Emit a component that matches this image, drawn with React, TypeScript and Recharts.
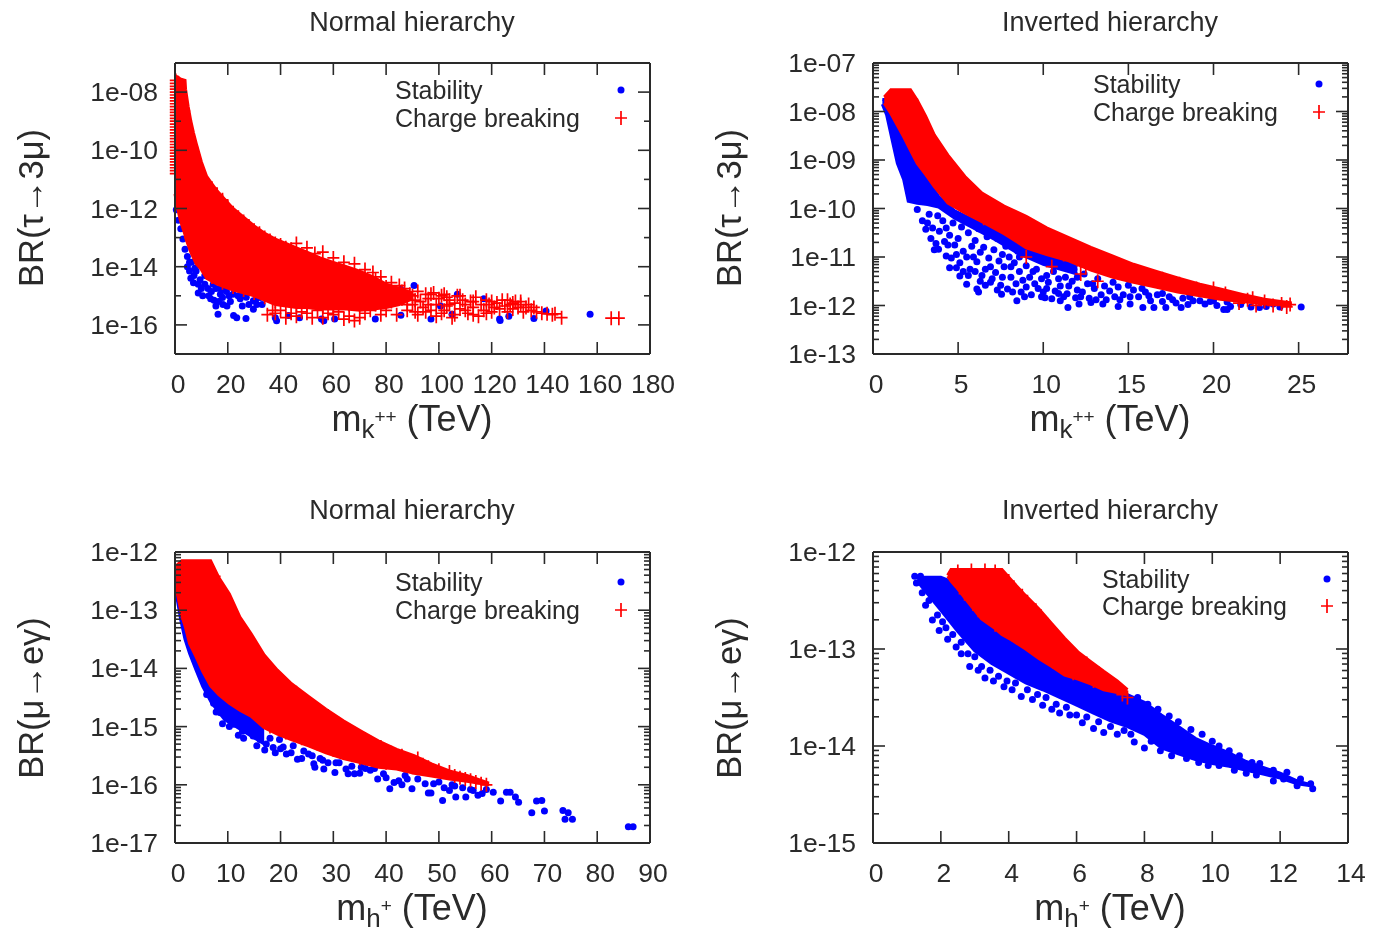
import React from "react"
import { ComposedChart, Area, Scatter, XAxis, YAxis } from "recharts"

type Pt = [number, number]

const FONT = "'Liberation Sans', Arial, sans-serif"
const INK = "#2a2a2a"
const BLUE = "#0000ff"
const RED = "#ff0000"

const LEGEND_NAMES = ["Stability", "Charge breaking"]
const TITLES = ["Normal hierarchy", "Inverted hierarchy"]

// all BR values below as log10(BR)

// --- tau -> 3mu, normal
const tauNormalXTicks = [0, 20, 40, 60, 80, 100, 120, 140, 160, 180]
const tauNormalYTicks = [1e-17, 1e-16, 1e-15, 1e-14, 1e-13, 1e-12, 1e-11, 1e-10, 1e-9, 1e-8, 1e-7]
const tauNormalYLabels: [number, string][] = [[1e-16, "1e-16"], [1e-14, "1e-14"], [1e-12, "1e-12"], [1e-10, "1e-10"], [1e-8, "1e-08"]]
const tauNormalBandX = [0, 1, 2, 3.8, 4, 5, 6, 7, 8, 10, 12, 14, 16, 19, 22, 26, 30, 34, 38, 42, 46, 50, 55, 60, 65, 70, 75, 80, 85, 90]
const tauNormalBandHi = [-7.45, -7.48, -7.55, -7.6, -7.9, -8.5, -9, -9.4, -9.75, -10.4, -10.9, -11.15, -11.4, -11.7, -12, -12.3, -12.6, -12.85, -13.05, -13.2, -13.35, -13.5, -13.7, -13.85, -14, -14.15, -14.35, -14.6, -14.75, -14.9]
const tauNormalBandLo = [-11.5, -12, -12.4, -12.9, -13, -13.25, -13.5, -13.7, -13.9, -14.1, -14.4, -14.5, -14.6, -14.7, -14.8, -14.9, -15, -15.15, -15.3, -15.35, -15.4, -15.4, -15.45, -15.45, -15.45, -15.5, -15.45, -15.4, -15.3, -15.1]
const tauNormalBlue: Pt[] = [
  [0.5, -12.04], [1.3, -12.4], [2.2, -12.7], [3, -13.05], [3.8, -13.4], [4.7, -13.65], [5.5, -13.85], [5.5, -14.15], [4.7, -14], [6.3, -13.85],
  [7.2, -14.3], [8, -14.15], [8.8, -14.6], [8.8, -14.9], [11.3, -14.3], [11.3, -14.6], [12.2, -14.3], [13.5, -15.1], [13.8, -14.85], [15.5, -15.35],
  [16.3, -15.63], [15.5, -14.75], [17.2, -14.95], [18, -15.06], [18.9, -14.78], [19.7, -15.35], [20.5, -15], [22.2, -15.68], [23.4, -15.75], [23.9, -15],
  [24.7, -15.1], [25.5, -15.35], [26.9, -15.78], [29.7, -15.46], [29.7, -15.17], [30.5, -15.17], [32.2, -15.06], [38, -15.75], [38.5, -15.86], [43, -15.68],
  [47.2, -15.75], [55.5, -15.8], [56.4, -15.86], [60.5, -15.8], [75.9, -15.8], [85.6, -15.67], [97, -15.8], [107, -14.95], [117, -15.1], [123, -15.8],
  [123.2, -15.85], [126.5, -15.7], [136, -15.78], [140.6, -15.52], [157.3, -15.63], [90.6, -14.65], [85.6, -14.78], [105, -15.63], [100.6, -15.35],
  [6, -14.4], [7, -14.55], [7.5, -14.05], [9.5, -14.45], [10, -14.75], [10.5, -15], [12.5, -14.75], [12.8, -15], [14.5, -14.6], [14.8, -15.15],
  [16.5, -15.2], [17, -14.75], [18.2, -15.3], [19.5, -14.85], [21, -15.2], [22, -14.95], [25, -14.98], [27, -15.05], [28, -15.3], [31, -15.3], [33, -15.3],
]
const tauNormalRed: Pt[] = [
  [0.3, -7.6], [0.3, -7.7], [0.3, -7.8], [0.3, -7.9], [0.3, -8], [0.3, -8.1], [0.3, -8.2], [0.3, -8.3], [0.3, -8.4], [0.3, -8.5], [0.3, -8.6], [0.3, -8.7],
  [0.3, -8.8], [0.3, -8.9], [0.3, -9], [0.3, -9.1], [0.3, -9.2], [0.3, -9.3], [0.3, -9.4], [0.3, -9.5], [0.3, -9.6], [0.3, -9.7], [0.3, -9.8], [0.3, -9.9],
  [0.3, -10], [0.3, -10.1], [0.3, -10.2], [0.3, -10.3], [0.3, -10.4], [0.3, -10.5], [0.3, -10.6], [0.3, -10.7], [0.3, -10.8],
  [3.5, -8.65], [4.5, -9.15], [5.5, -9.55], [6.5, -9.9], [8.5, -10.55], [10.5, -11.05], [12, -11.2], [14, -11.3], [16, -11.55], [18, -11.7], [20, -11.95],
  [22, -12.15], [24, -12.3], [26, -12.45], [28, -12.6], [30, -12.75], [32, -12.85], [34, -13], [36, -13.1], [38, -13.2], [40, -13.25], [42, -13.35], [44, -13.4],
  [14, -14.35], [18, -14.55], [22, -14.7], [26, -14.8], [30, -14.9], [34, -15.05], [38, -15.2], [42, -15.25], [46, -15.3], [50, -15.3], [56, -15.35], [60, -15.35], [66, -15.3],
  [46, -13.2], [50, -13.35], [53, -13.55], [56, -13.5], [60, -13.7], [64, -13.85], [68, -13.9], [72, -14.1], [75, -14.2], [78, -14.35],
  [35, -15.65], [38, -15.6], [40, -15.5], [44, -15.6], [48, -15.55], [52, -15.75], [54, -15.5], [58, -15.6], [62, -15.55], [64, -15.8],
  [66, -15.7], [68, -15.85], [70, -15.75], [72, -15.6], [74, -15.5], [76, -15.3], [78, -15.65], [80, -15.5], [82, -15.2], [84, -15.65],
  [60, -15.65], [56, -15.75], [50, -15.6], [46, -15.7], [42, -15.75], [37, -15.5], [88, -15.5], [92, -15.65], [95, -15.55], [99, -15.7], [102, -15.5],
  [106, -15.65], [110, -15.5], [113, -15.65], [118, -15.6], [121, -15.4], [90, -15.3], [96, -15.3], [103, -15.05], [108, -15], [113, -15.2], [118, -15.15],
  [120, -15.2], [126, -15.15], [128, -15.25], [131, -15.2], [134, -15.3], [136, -15.4], [86, -14.85], [91, -15.15], [97, -14.95], [101, -15], [104, -15.3],
  [76, -14.45], [78, -14.6], [80, -14.7], [82, -14.55], [84, -14.9], [85, -14.65], [86, -15.1], [87, -14.75], [88, -15.3], [89, -14.95],
  [90, -15], [91, -15.55], [92, -14.85], [93, -15.2], [94, -15.4], [95, -14.95], [96, -15.1], [97, -15.5], [98, -14.9], [99, -15.3],
  [100, -15.1], [101, -15.6], [102, -14.95], [103, -15.35], [104, -15.15], [105, -15.75], [106, -15.25], [107, -15], [108, -15.45], [109, -15.15],
  [110, -15.3], [111, -15.6], [112, -15.2], [113, -15.4], [114, -15.05], [115, -15.7], [116, -15.3], [117, -15.5], [119, -15.3], [120, -15.55],
  [122, -15.25], [123, -15.45], [124, -15.15], [125, -15.35], [126, -15.55], [127, -15.3], [128, -15.45], [129, -15.2], [130, -15.4], [131, -15.3],
  [132, -15.55], [133, -15.4], [135, -15.5], [137, -15.55], [139, -15.6], [141, -15.62], [143, -15.65], [144, -15.62], [146.5, -15.75], [165.3, -15.77], [168.2, -15.77],
]

// --- tau -> 3mu, inverted
const tauInvertedXTicks = [0, 5, 10, 15, 20, 25]
const tauInvertedYMajor = [1e-13, 1e-12, 1e-11, 1e-10, 1e-9, 1e-8, 1e-7]
const tauInvertedYLabels = ["1e-13", "1e-12", "1e-11", "1e-10", "1e-09", "1e-08", "1e-07"]
const tauInvertedBandX = [0.66, 1.05, 1.8, 2.2, 2.6, 3.1, 3.6, 4.4, 5.4, 6.4, 7.7, 9, 10.2, 11.5, 12.8, 14.1, 15.3, 16.6, 17.9, 19.2, 20.4, 21.7, 23, 24.6]
const tauInvertedBandHi = [-7.7, -7.55, -7.55, -7.55, -7.77, -8.1, -8.48, -8.9, -9.34, -9.68, -9.95, -10.16, -10.4, -10.6, -10.8, -10.98, -11.15, -11.29, -11.43, -11.56, -11.66, -11.77, -11.87, -11.95]
const tauInvertedBandLo = [-7.83, -8.04, -8.52, -8.8, -9.07, -9.3, -9.55, -9.89, -10.09, -10.27, -10.52, -10.81, -10.95, -11.08, -11.27, -11.42, -11.52, -11.62, -11.72, -11.8, -11.87, -11.92, -11.97, -11.99]
const tauInvertedBlueBandX = [0.55, 0.8, 1.17, 1.43, 1.8, 2.07, 2.6, 3.2, 3.85, 4.8, 6, 7.2, 8.5, 10, 12]
const tauInvertedBlueBandHi = [-7.75, -7.75, -7.85, -8.1, -8.5, -8.7, -9.05, -9.4, -9.75, -10.05, -10.25, -10.45, -10.7, -10.9, -11.2]
const tauInvertedBlueBandLo = [-7.85, -8.07, -8.66, -9.07, -9.4, -9.85, -9.89, -9.92, -9.97, -10.2, -10.42, -10.65, -10.92, -11.15, -11.35]
const tauInvertedBlue: Pt[] = [
  [2.6, -10.02], [3.1, -10.43], [3.85, -10.84], [4.5, -11.22], [5.1, -11.39], [5.5, -11.56], [6.1, -11.66], [6.2, -11.72], [7.55, -11.77], [8.45, -11.9],
  [10.1, -11.84], [11, -11.9], [11.45, -12.04], [12.1, -11.97], [12.8, -11.94], [13.5, -11.97], [14.4, -12.02], [15.1, -11.97], [15.85, -12.04], [16.5, -12.04],
  [17.2, -12.04], [18.1, -12.04], [19.5, -11.97], [20.6, -12.08], [20.8, -12.08], [22.7, -12.04], [23.5, -11.97], [25.15, -12.03],
  [3.1, -9.7], [3.3, -10.12], [2.9, -10.25], [3.5, -10.4], [3.4, -10.62], [3.7, -10.72], [4.1, -10.25], [3.9, -10.47], [4.2, -10.68], [4.3, -10.98],
  [4.7, -10.3], [4.5, -10.55], [4.8, -10.75], [4.6, -11.02], [5.2, -10.38], [5, -10.62], [5.3, -10.88], [5.1, -11.12], [5.6, -10.5], [5.8, -10.78],
  [5.5, -11], [5.7, -11.25], [6.2, -10.42], [6, -10.66], [6.3, -10.9], [6.1, -11.1], [6.4, -11.38], [6.7, -10.58], [6.5, -10.8], [6.8, -11.02],
  [6.6, -11.25], [6.9, -11.52], [7.3, -10.62], [7.1, -10.85], [7.4, -11.08], [7.2, -11.32], [7.5, -11.58], [7.8, -10.78], [8, -11], [7.7, -11.2],
  [8.1, -11.42], [7.9, -11.66], [8.5, -10.88], [8.3, -11.12], [8.6, -11.3], [8.4, -11.55], [8.7, -11.72], [9.1, -10.95], [9, -11.18], [9.2, -11.42],
  [9, -11.62], [9.3, -11.78], [9.8, -11.02], [9.6, -11.25], [9.9, -11.45], [9.7, -11.65], [10, -11.72], [10.4, -11.1], [10.6, -11.3], [10.3, -11.52],
  [10.7, -11.7], [10.5, -11.86], [11.1, -11.2], [11.3, -11.42], [11, -11.6], [11.4, -11.76], [11.8, -11.25], [11.7, -11.5], [12, -11.68], [11.9, -11.84],
  [12.4, -11.35], [12.6, -11.55], [12.3, -11.72], [12.7, -11.85], [13.2, -11.45], [13, -11.65], [13.4, -11.78], [13.7, -11.88], [14.1, -11.52], [13.9, -11.7],
  [14.4, -11.62], [14.7, -11.78], [14.5, -11.88], [15.3, -11.68], [15.6, -11.82], [16, -11.72], [16.3, -11.9], [16.7, -11.78], [17, -11.92], [17.4, -11.82],
  [17.8, -11.95], [18.2, -11.85], [18.5, -11.98], [18.8, -11.9], [19.8, -11.92], [20.2, -12], [21, -12.02], [21.6, -11.98], [22.2, -12.03], [23.1, -12.02], [23.9, -12.03],
  [3.6, -10.85], [3.2, -10.3], [3.8, -10.15], [4.3, -10.4], [4.4, -10.75], [4.9, -10.95], [4.9, -11.22], [5.3, -11.3], [5.6, -11.38], [5.9, -11], [6, -11.3],
  [6.3, -11.5], [6.6, -11.58], [6.9, -11.2], [7, -11.45], [7.3, -11.68], [7.6, -10.95], [7.6, -11.42], [8.1, -11.2], [8.2, -11.72], [8.6, -11], [8.8, -11.48],
  [8.9, -11.82], [9.4, -11.3], [9.5, -11.55], [9.9, -11.82], [10.2, -11.38], [10.2, -11.65], [10.9, -11.45], [10.9, -11.75], [11.2, -11.82], [11.5, -11.6],
  [12, -11.42], [12.2, -11.82], [12.9, -11.55], [13.1, -11.88], [13.6, -11.6], [14.2, -11.82], [15, -11.58], [15.1, -11.82], [15.8, -11.65], [16.2, -11.8],
  [17, -11.75], [17.6, -11.88], [18.6, -11.82], [19.2, -11.9], [20, -11.9], [20.8, -11.93],
]
const tauInvertedRed: Pt[] = [
  [1.3, -7.7], [1.8, -7.7], [2.3, -7.75], [2.6, -8], [3, -8.4], [3.4, -8.75], [4, -9.2], [4.6, -9.5], [5.2, -9.75], [5.8, -10], [6.5, -10.2], [7.2, -10.3],
  [8, -10.4], [8.8, -10.55], [9.6, -10.7], [10.4, -10.8], [11.2, -10.95], [12, -11.05], [13, -11.15], [14, -11.25], [9, -11], [10.5, -11.2], [12.2, -11.35], [12.5, -11.2],
  [13.2, -11.5], [15, -11.3], [16, -11.35], [17, -11.45], [18, -11.55], [19, -11.65],
  [20, -11.65], [20.7, -11.75], [21.5, -11.95], [22, -11.88], [22.5, -12], [22.3, -11.85], [23, -11.92], [23.5, -12], [24, -11.97], [24.3, -12.03], [24.5, -11.98],
]

// --- mu -> e gamma, normal
const muNormalXTicks = [0, 10, 20, 30, 40, 50, 60, 70, 80, 90]
const muNormalYMajor = [1e-17, 1e-16, 1e-15, 1e-14, 1e-13, 1e-12]
const muNormalYLabels = ["1e-17", "1e-16", "1e-15", "1e-14", "1e-13", "1e-12"]
const muNormalBandX = [0.2, 1.3, 2, 2.75, 4, 5.25, 6.75, 8.3, 10.3, 12.3, 14.4, 16.9, 19.4, 21.9, 25.3, 28.6, 31.9, 35.3, 38.6, 42, 45.3, 48.6, 52, 55.3, 59.5]
const muNormalBandHi = [-12.24, -12.15, -12.15, -12.15, -12.15, -12.15, -12.15, -12.44, -12.72, -13.12, -13.4, -13.77, -14.03, -14.25, -14.48, -14.7, -14.9, -15.08, -15.25, -15.39, -15.5, -15.64, -15.76, -15.84, -15.97]
const muNormalBandLo = [-12.6, -13.1, -13.3, -13.57, -13.8, -14.05, -14.3, -14.45, -14.6, -14.72, -14.82, -15.02, -15.13, -15.22, -15.33, -15.45, -15.55, -15.62, -15.7, -15.73, -15.8, -15.85, -15.9, -15.94, -16]
const muNormalBlueBandX = [0.25, 1.1, 1.9, 2.75, 4, 5.25, 6.9, 9.4, 11.9, 14.4, 16.9]
const muNormalBlueBandHi = [-12.3, -12.9, -13.2, -13.5, -13.75, -14, -14.25, -14.5, -14.65, -14.8, -15]
const muNormalBlueBandLo = [-12.72, -13.17, -13.5, -13.74, -14.03, -14.31, -14.59, -14.88, -15.02, -15.16, -15.3]
const muNormalBlue: Pt[] = [
  [7.3, -14.6], [8.6, -14.76], [9.8, -14.85], [11.1, -14.96], [12.8, -15.08], [13.6, -15.05], [14.8, -15.16], [16.1, -15.22], [17.3, -15.3], [18.6, -15.36],
  [19.8, -15.22], [21.1, -15.47], [22.4, -15.33], [23.2, -15.56], [24.4, -15.42], [25.3, -15.47], [26.3, -15.64], [26.5, -15.7], [28.2, -15.73], [29, -15.62],
  [30.3, -15.79], [31.1, -15.62], [32.4, -15.73], [32.8, -15.81], [34, -15.81], [35.3, -15.7], [36.1, -15.72], [38.4, -15.9], [39.5, -15.81], [40.7, -16.07],
  [41.5, -15.96], [42.4, -15.93], [43.6, -15.84], [44.9, -16.07], [44, -15.9], [47.4, -15.98], [48, -16.14], [48.5, -16.14], [50.7, -16.27], [52, -16.1],
  [53.2, -16.21], [55.1, -16.21], [57.4, -16.18], [58.2, -16.15], [60.3, -16.13], [61.7, -16.28], [62.8, -16.13], [63.5, -16.13], [64.5, -16.21], [65.1, -16.3],
  [67.6, -16.48], [68.5, -16.28], [69.5, -16.27], [70, -16.45], [73.5, -16.44], [74.5, -16.48], [73.9, -16.59], [75.3, -16.59], [85.9, -16.72], [86.8, -16.72],
  [50, -15.95], [52.5, -16], [54.5, -16.05], [56, -16.08], [59, -16.08], [18, -15.2], [20.5, -15.35], [22, -15.45], [27.5, -15.55], [33.5, -15.68], [37, -15.75],
  [6, -14.45], [7.8, -14.75], [9, -14.95], [10.3, -15], [12, -15.15], [13, -15.2], [15.5, -15.33], [17, -15.4], [19, -15.45], [20, -15.38], [24, -15.55],
  [26, -15.5], [28, -15.58], [30.5, -15.62], [35, -15.8], [37.8, -15.72], [40, -15.88], [43, -16], [46, -15.9], [49, -15.98], [51, -16.05], [53, -16.02], [56.5, -16.1],
]
const muNormalRed: Pt[] = [
  [2, -12.26], [3.5, -12.26], [5, -12.26], [7.5, -12.42], [9, -12.7], [10.5, -13], [12, -13.25], [13.5, -13.5], [15, -13.7], [17, -13.92], [19, -14.1], [21, -14.28],
  [23, -14.42], [25, -14.58], [27, -14.7], [29, -14.82], [31, -14.95], [33, -15.07], [35, -15.18], [37, -15.27], [39, -15.35], [41, -15.45], [43, -15.5], [45, -15.6],
  [18, -15], [21, -15.1], [24, -15.2], [27, -15.3], [30, -15.4], [35, -15.55], [40, -15.62], [45, -15.7],
  [46, -15.55], [48, -15.7], [50, -15.75], [52, -15.78], [53, -15.85], [54, -15.88], [55, -15.9], [56, -15.92], [57, -15.95], [58, -15.98], [59, -16],
]

// --- mu -> e gamma, inverted
const muInvertedXTicks = [0, 2, 4, 6, 8, 10, 12, 14]
const muInvertedYMajor = [1e-15, 1e-14, 1e-13, 1e-12]
const muInvertedYLabels = ["1e-15", "1e-14", "1e-13", "1e-12"]
const muInvertedBandX = [2.2, 2.3, 2.45, 2.83, 3.2, 3.6, 3.8, 4.1, 4.5, 4.9, 5.27, 5.65, 6.04, 6.42, 6.8, 7.2, 7.5]
const muInvertedBandHi = [-12.24, -12.18, -12.18, -12.18, -12.18, -12.18, -12.18, -12.3, -12.45, -12.59, -12.74, -12.89, -13.03, -13.13, -13.23, -13.33, -13.42]
const muInvertedBandLo = [-12.25, -12.3, -12.36, -12.53, -12.69, -12.79, -12.85, -12.91, -13, -13.1, -13.18, -13.27, -13.31, -13.36, -13.42, -13.45, -13.47]
const muInvertedBlueBandX = [1.3, 2, 2.5, 3, 3.5, 4, 4.5, 5, 5.5, 6, 6.5, 7, 7.5, 8, 8.5, 9, 9.5, 10, 10.5, 11, 11.5, 12, 12.5, 12.9]
const muInvertedBlueBandHi = [-12.26, -12.26, -12.33, -12.55, -12.72, -12.85, -13, -13.1, -13.22, -13.3, -13.36, -13.42, -13.47, -13.55, -13.68, -13.8, -13.92, -14, -14.07, -14.16, -14.22, -14.28, -14.36, -14.4]
const muInvertedBlueBandLo = [-12.3, -12.6, -12.82, -13.02, -13.15, -13.25, -13.35, -13.42, -13.5, -13.58, -13.66, -13.74, -13.8, -13.88, -14.02, -14.08, -14.14, -14.18, -14.21, -14.25, -14.29, -14.33, -14.39, -14.41]
const muInvertedBlue: Pt[] = [
  [1.23, -12.25], [1.28, -12.32], [1.4, -12.25], [1.45, -12.42], [1.55, -12.55], [1.65, -12.5], [1.75, -12.7], [1.95, -12.81], [2.05, -12.72], [2.2, -12.9],
  [2.45, -12.98], [2.6, -13.05], [2.85, -13.18], [3.1, -13.22], [3.3, -13.3], [3.55, -13.33], [3.86, -13.39], [4.1, -13.42], [4.37, -13.49], [4.7, -13.52],
  [5, -13.58], [5.27, -13.62], [5.5, -13.66], [5.8, -13.68], [6.17, -13.76], [6.5, -13.82], [6.8, -13.86], [7.2, -13.88], [7.7, -13.96], [8, -14.02],
  [8.47, -14.05], [8.8, -14.1], [9.24, -14.13], [9.6, -14.17], [9.88, -14.2], [10.2, -14.2], [10.65, -14.25], [11, -14.28], [11.3, -14.3], [11.8, -14.36],
  [12.1, -14.34], [12.5, -14.41], [12.96, -14.44], [12.9, -14.39], [12.6, -14.34], [12.2, -14.27], [11.8, -14.25], [11.4, -14.18], [11.17, -14.17], [10.8, -14.1],
  [10.5, -14.05], [10.2, -14], [10, -13.95], [9.7, -13.88], [9.37, -13.83], [9, -13.75], [8.73, -13.69], [8.4, -13.62], [8.1, -13.57], [7.8, -13.5],
  [1.9, -12.65], [2.15, -12.78], [2.35, -12.85], [2.6, -12.93], [2.8, -13.05], [3, -13.08], [3.2, -13.18], [3.45, -13.22], [3.7, -13.28], [3.95, -13.33],
  [4.2, -13.35], [4.55, -13.42], [4.85, -13.47], [5.1, -13.5], [5.4, -13.57], [5.7, -13.6], [6, -13.68], [6.3, -13.7], [6.65, -13.75], [7, -13.8], [7.4, -13.84], [7.6, -13.88], [8.2, -13.95], [8.6, -14],
]
const muInvertedRed: Pt[] = [
  [2.5, -12.2], [2.9, -12.19], [3.3, -12.19], [3.6, -12.2], [4, -12.3], [4.4, -12.45], [4.8, -12.6], [5.15, -12.75], [5.5, -12.9], [5.9, -13.05], [6.3, -13.15], [6.65, -13.25], [7, -13.35],
  [2.7, -12.43], [3.1, -12.6], [3.6, -12.75], [4.1, -12.85], [4.7, -12.98], [5.3, -13.13], [5.9, -13.25], [6.5, -13.33], [7.35, -13.47], [7.5, -13.5],
]

const toPoints = (pts: Pt[]) => pts.map(([x, e]) => ({ x, y: 10 ** e }))
const toBand = (xs: number[], hi: number[], lo: number[]) =>
  xs.map((x, i) => ({ x, band: [10 ** lo[i], 10 ** hi[i]] }))

const withMinors = (majors: number[]) => {
  const out: number[] = []
  majors.slice(0, -1).forEach((m) => [1, 2, 3, 4, 5, 6, 7, 8, 9].forEach((f) => out.push(m * f)))
  out.push(majors[majors.length - 1])
  return out
}
const labelMap = (values: number[], labels: string[]) => new Map(values.map((v, i) => [v, labels[i]] as [number, string]))

function Dot(p: any) {
  return <circle cx={p.cx} cy={p.cy} r={3.5} fill={BLUE} />
}
function Plus({ cx, cy }: any) {
  return <path d={`M${cx - 6} ${cy}H${cx + 6}M${cx} ${cy - 7}V${cy + 7}`} stroke={RED} strokeWidth={1.7} fill="none" />
}

const xTick = (side: "bottom" | "top", labelled: boolean) => (p: any) => (
  <g>
    <line x1={p.x} x2={p.x} y1={p.y} y2={side === "bottom" ? p.y - 12 : p.y + 12} stroke={INK} strokeWidth={1.6} />
    {labelled && (
      <text x={p.x + 3} y={p.y + 39} textAnchor="middle" fontFamily={FONT} fontSize={26.5} fill={INK}>
        {p.payload.value}
      </text>
    )}
  </g>
)

const yTick = (side: "left" | "right", labels: Map<number, string>, majors: number[] | null, labelled: boolean) => (p: any) => {
  const v = p.payload.value
  const text = labels.get(v)
  const long = majors ? majors.includes(v) : text !== undefined
  const len = long ? 12 : 6
  return (
    <g>
      <line x1={p.x} x2={side === "left" ? p.x + len : p.x - len} y1={p.y} y2={p.y} stroke={INK} strokeWidth={1.6} />
      {labelled && text && (
        <text x={p.x - 17} y={p.y} textAnchor="end" dominantBaseline="central" fontFamily={FONT} fontSize={26.5} fill={INK}>
          {text}
        </text>
      )}
    </g>
  )
}

function LegendBlock({ x, y1, y2, mx }: { x: number; y1: number; y2: number; mx: number }) {
  return (
    <g fontFamily={FONT} fontSize={25} fill={INK}>
      <text x={x} y={y1} dominantBaseline="central">{LEGEND_NAMES[0]}</text>
      <text x={x} y={y2} dominantBaseline="central">{LEGEND_NAMES[1]}</text>
      <Dot cx={mx} cy={y1} />
      <Plus cx={mx} cy={y2} />
    </g>
  )
}

function Panel(props: any) {
  const { left, top, width, title, xSub, xSup, yLabel, xTicks, xMax, yTicks, yMin, yMax, yLabels, yMajors, red, blue, redBand, blueBand, legend } = props
  const height = 455
  const axisLine = { stroke: INK, strokeWidth: 2 }
  return (
    <div style={{ position: "absolute", left, top }}>
      <ComposedChart
        width={width}
        height={height}
        margin={{ top: 62, left: 174, right: width - 175 - 475 - 1, bottom: height - 63 - 291 - 1 }}
      >
        <XAxis xAxisId={0} dataKey="x" type="number" domain={[0, xMax]} ticks={xTicks} interval={0} height={1} tickSize={0} tickMargin={0} tickLine={false} axisLine={axisLine} tick={xTick("bottom", true)} />
        <XAxis xAxisId="top" orientation="top" dataKey="x" type="number" domain={[0, xMax]} allowDataOverflow ticks={xTicks} interval={0} height={1} tickSize={0} tickMargin={0} tickLine={false} axisLine={axisLine} tick={xTick("top", false)} />
        <YAxis yAxisId={0} dataKey="y" type="number" scale="log" domain={[yMin, yMax]} ticks={yTicks} interval={0} width={1} tickSize={0} tickMargin={0} tickLine={false} axisLine={axisLine} tick={yTick("left", yLabels, yMajors, true)} />
        <YAxis yAxisId="right" orientation="right" dataKey="y" type="number" scale="log" domain={[yMin, yMax]} allowDataOverflow ticks={yTicks} interval={0} width={1} tickSize={0} tickMargin={0} tickLine={false} axisLine={axisLine} tick={yTick("right", yLabels, yMajors, false)} />
        {blueBand && (
          <Area data={blueBand} dataKey="band" type="linear" fill={BLUE} fillOpacity={1} stroke={BLUE} strokeWidth={3} dot={false} activeDot={false} isAnimationActive={false} zIndex={100} />
        )}
        <Scatter data={blue} shape={Dot} isAnimationActive={false} zIndex={101} />
        <Area data={redBand} dataKey="band" type="linear" fill={RED} fillOpacity={1} stroke={RED} strokeWidth={3} dot={false} activeDot={false} isAnimationActive={false} zIndex={102} />
        <Scatter data={red} shape={Plus} isAnimationActive={false} zIndex={103} />
        <text x={412} y={props.titleY} textAnchor="middle" dominantBaseline="central" fontFamily={FONT} fontSize={27} fill={INK}>{title}</text>
        <text x={412} y={431} textAnchor="middle" fontFamily={FONT} fontSize={36} fill={INK}>
          m<tspan dy={7} fontSize={26}>{xSub}</tspan>
          <tspan dy={-15} fontSize={19}>{xSup}</tspan>
          <tspan dy={8}> (TeV)</tspan>
        </text>
        <text transform={`rotate(-90 31 ${props.yLabelY})`} x={31} y={props.yLabelY} textAnchor="middle" dominantBaseline="central" fontFamily={FONT} fontSize={34.5} fill={INK}>{yLabel}</text>
        <LegendBlock {...legend} />
      </ComposedChart>
    </div>
  )
}

export default function App() {
  return (
    <div style={{ position: "absolute", left: 0, top: 0, width: 1373, height: 933, overflow: "hidden", filter: "blur(0.55px)" }}>
      <Panel
        left={0} top={0} width={690} title={TITLES[0]} titleY={22} xSub="k" xSup="++" yLabel="BR(τ→3μ)" yLabelY={208}
        xTicks={tauNormalXTicks} xMax={180} yTicks={tauNormalYTicks} yMin={1e-17} yMax={1e-7}
        yLabels={new Map(tauNormalYLabels)} yMajors={null}
        blue={toPoints(tauNormalBlue)} red={toPoints(tauNormalRed)}
        redBand={toBand(tauNormalBandX, tauNormalBandHi, tauNormalBandLo)}
        legend={{ x: 395, y1: 90, y2: 118, mx: 621 }}
      />
      <Panel
        left={698} top={0} width={675} title={TITLES[1]} titleY={22} xSub="k" xSup="++" yLabel="BR(τ→3μ)" yLabelY={208}
        xTicks={tauInvertedXTicks} xMax={27.9} yTicks={withMinors(tauInvertedYMajor)} yMin={1e-13} yMax={1e-7}
        yLabels={labelMap(tauInvertedYMajor, tauInvertedYLabels)} yMajors={tauInvertedYMajor}
        blue={toPoints(tauInvertedBlue)} red={toPoints(tauInvertedRed)}
        redBand={toBand(tauInvertedBandX, tauInvertedBandHi, tauInvertedBandLo)}
        blueBand={toBand(tauInvertedBlueBandX, tauInvertedBlueBandHi, tauInvertedBlueBandLo)}
        legend={{ x: 395, y1: 84, y2: 112, mx: 621 }}
      />
      <Panel
        left={0} top={489} width={690} title={TITLES[0]} titleY={21} xSub="h" xSup="+" yLabel="BR(μ→eγ)" yLabelY={209}
        xTicks={muNormalXTicks} xMax={90} yTicks={withMinors(muNormalYMajor)} yMin={1e-17} yMax={1e-12}
        yLabels={labelMap(muNormalYMajor, muNormalYLabels)} yMajors={muNormalYMajor}
        blue={toPoints(muNormalBlue)} red={toPoints(muNormalRed)}
        redBand={toBand(muNormalBandX, muNormalBandHi, muNormalBandLo)}
        blueBand={toBand(muNormalBlueBandX, muNormalBlueBandHi, muNormalBlueBandLo)}
        legend={{ x: 395, y1: 93, y2: 121, mx: 621 }}
      />
      <Panel
        left={698} top={489} width={675} title={TITLES[1]} titleY={21} xSub="h" xSup="+" yLabel="BR(μ→eγ)" yLabelY={209}
        xTicks={muInvertedXTicks} xMax={14} yTicks={withMinors(muInvertedYMajor)} yMin={1e-15} yMax={1e-12}
        yLabels={labelMap(muInvertedYMajor, muInvertedYLabels)} yMajors={muInvertedYMajor}
        blue={toPoints(muInvertedBlue)} red={toPoints(muInvertedRed)}
        redBand={toBand(muInvertedBandX, muInvertedBandHi, muInvertedBandLo)}
        blueBand={toBand(muInvertedBlueBandX, muInvertedBlueBandHi, muInvertedBlueBandLo)}
        legend={{ x: 404, y1: 90, y2: 117, mx: 629 }}
      />
    </div>
  )
}
